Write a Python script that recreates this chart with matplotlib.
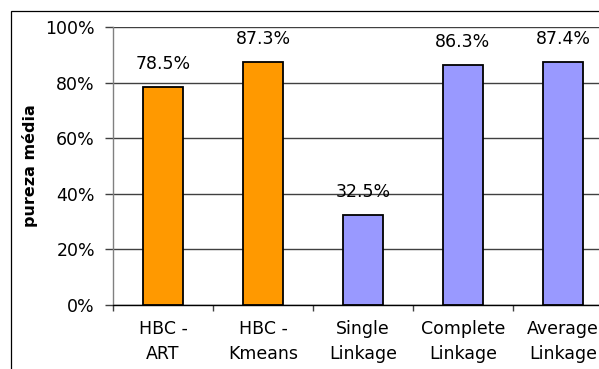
import matplotlib.pyplot as plt
from matplotlib.patches import Rectangle
from matplotlib.ticker import FuncFormatter

# dados
categorias = ["HBC -\nART", "HBC -\nKmeans", "Single\nLinkage", "Complete\nLinkage", "Average\nLinkage"]
pureza = [78.5, 87.3, 32.5, 86.3, 87.4]
cores = ["#FF9900", "#FF9900", "#9999FF", "#9999FF", "#9999FF"]

plt.rcParams['font.family'] = ['DejaVu Sans']
fs = 12.5

fig = plt.figure(figsize=(5.99, 3.69), dpi=100)
ax = fig.add_axes([113 / 599, 64 / 369, 500 / 599, 278 / 369])

# moldura externa do gráfico
fig.patches.append(Rectangle((11 / 599, -0.1), 1.2, 0.1 + 358 / 369,
                             transform=fig.transFigure, fill=False,
                             edgecolor='black', linewidth=0.9))

x = range(len(categorias))
ax.bar(x, pureza, width=0.4, color=cores, edgecolor='black', linewidth=1.3, zorder=3)

for xi, v in zip(x, pureza):
    ax.annotate(f"{v:.1f}%", (xi, v), xytext=(0, 10), textcoords='offset points',
                ha='center', va='bottom', fontsize=fs)

ax.set_xlim(-0.5, 4.5)
ax.set_ylim(0, 100)
ax.set_yticks(range(0, 101, 20))
ax.yaxis.set_major_formatter(FuncFormatter(lambda v, p: f"{int(v)}%"))
ax.grid(axis='y', color='#404040', linewidth=1.0, zorder=0)

ax.set_xticks(list(x))
ax.set_xticklabels(categorias, linespacing=1.45)
ax.set_xticks([i - 0.5 for i in range(6)], minor=True)
ax.tick_params(axis='x', which='major', length=0, pad=11, labelsize=fs)
ax.tick_params(axis='x', which='minor', length=4, width=1, direction='out', color='#404040')
ax.tick_params(axis='y', length=6, width=1, color='#404040', pad=7, labelsize=fs)

for s in ['top', 'right']:
    ax.spines[s].set_visible(False)
ax.spines['left'].set_color('#808080')
ax.spines['bottom'].set_color('black')
ax.spines['left'].set_linewidth(1.0)
ax.spines['bottom'].set_linewidth(1.0)

ax.set_ylabel("pureza média", fontsize=11.5, fontweight='bold', labelpad=5)

fig.savefig("out.png", dpi=100)
